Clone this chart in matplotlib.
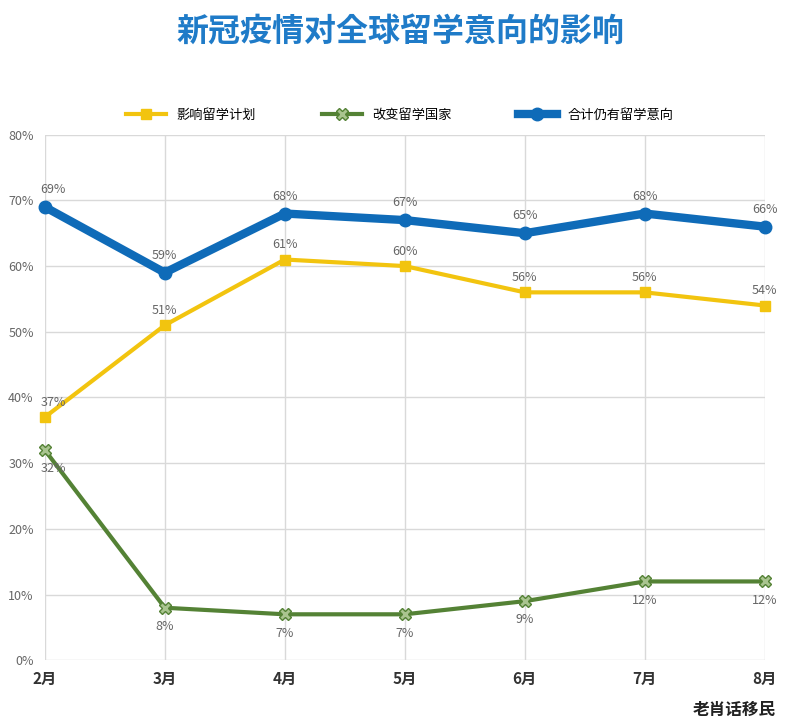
import matplotlib
matplotlib.use("Agg")
import matplotlib.pyplot as plt

months = ["2月", "3月", "4月", "5月", "6月", "7月", "8月"]
affect_plan = [37, 51, 61, 60, 56, 56, 54]
change_country = [32, 8, 7, 7, 9, 12, 12]
still_intend = [69, 59, 68, 67, 65, 68, 66]
yticks = [0, 10, 20, 30, 40, 50, 60, 70, 80]

plt.rcParams["font.family"] = ["Noto Sans CJK JP", "DejaVu Sans"]
fig = plt.figure(figsize=(8, 7.28), dpi=100)
ax = fig.add_axes([0.056, 0.093, 0.9, 0.722])
x = list(range(len(months)))

ax.plot(x, affect_plan, color="#F2C40F", lw=3, marker="s", ms=7, label="影响留学计划", clip_on=False)
ax.plot(x, change_country, color="#548235", lw=3, marker="X", ms=8,
        mfc="#A9C48F", mec="#548235", label="改变留学国家", clip_on=False)
ax.plot(x, still_intend, color="#0F6BB8", lw=6, marker="o", ms=9, label="合计仍有留学意向", clip_on=False)

lc = "#666666"
for i in x:
    dx = 6 if i == 0 else 0
    ax.annotate(f"{still_intend[i]}%", (i, still_intend[i]), xytext=(dx, 10),
                textcoords="offset points", ha="center", fontsize=9, color=lc)
    ax.annotate(f"{affect_plan[i]}%", (i, affect_plan[i]), xytext=(dx, 8),
                textcoords="offset points", ha="center", fontsize=9, color=lc)
    ax.annotate(f"{change_country[i]}%", (i, change_country[i]), xytext=(dx, -16),
                textcoords="offset points", ha="center", fontsize=9, color=lc)

ax.set_xlim(0, 6)
ax.set_ylim(0, 80)
ax.set_yticks(yticks)
ax.set_yticklabels([f"{v}%" for v in yticks], fontsize=9, color="#666666")
ax.set_xticks(x)
ax.set_xticklabels(months, fontsize=11, fontweight="bold", color="#333333")
ax.grid(True, color="#D9D9D9", lw=1)
ax.set_axisbelow(True)
for s in ax.spines.values():
    s.set_visible(False)
ax.tick_params(length=0)
ax.tick_params(axis="x", pad=8)
ax.tick_params(axis="y", pad=8)

fig.text(0.5, 0.955, "新冠疫情对全球留学意向的影响", ha="center", va="center",
         fontsize=23, fontweight="bold", color="#1F7BC8")
fig.legend(loc="center", bbox_to_anchor=(0.5, 0.842), ncol=3, frameon=False,
           fontsize=9.5, handlelength=3, columnspacing=5)
fig.text(0.97, 0.012, "老肖话移民", ha="right", va="bottom", fontsize=12,
         fontweight="bold", color="#222222")
fig.savefig("out.png", dpi=100, facecolor="white")
